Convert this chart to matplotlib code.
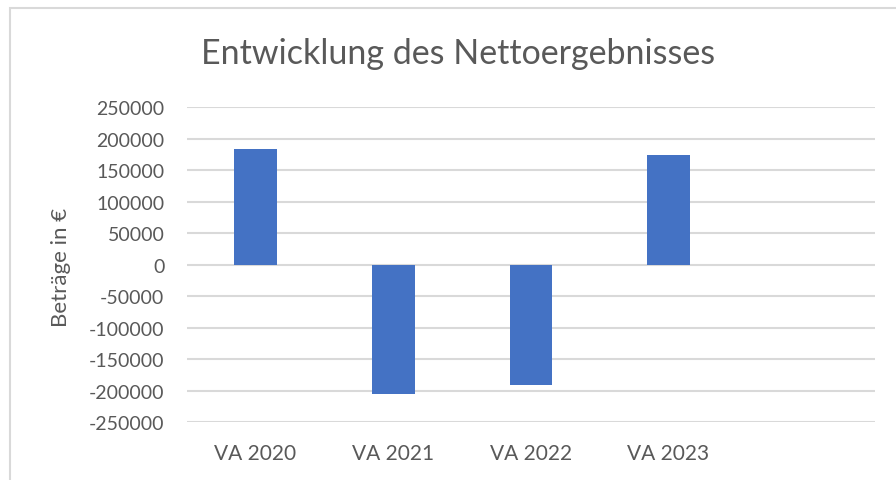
import matplotlib
matplotlib.use("Agg")
import matplotlib.pyplot as plt
from matplotlib.patches import Rectangle

plt.rcParams['font.family'] = ['Lato', 'DejaVu Sans']

# data
categories = ["VA 2020", "VA 2021", "VA 2022", "VA 2023"]
values = [184000, -205000, -190000, 175000]
yticks = list(range(-250000, 250001, 50000))

txt = "#595959"
grid = "#D9D9D9"
bar_col = "#4472C4"

fig = plt.figure(figsize=(8.96, 4.81), dpi=100)

# light chart border (right/bottom run off the picture)
fig.patches.append(Rectangle((10 / 896, -0.1), 1.2, 1 - 9 / 481 + 0.1,
                             transform=fig.transFigure, fill=False,
                             edgecolor=grid, linewidth=1.5))

ax = fig.add_axes([186.7 / 896, 1 - 423.3 / 481, (875 - 186.7) / 896, (423.3 - 108.3) / 481])
x = list(range(len(categories)))
ax.bar(x, values, width=0.31, color=bar_col, zorder=3)

ax.set_xlim(-0.5, 4.5)
ax.set_ylim(-250000, 250000)
ax.set_yticks(yticks)
ax.set_yticklabels([str(v) for v in yticks])
ax.set_xticks(x)
ax.set_xticklabels(categories)
ax.tick_params(length=0, labelsize=14, colors=txt)
ax.tick_params(axis='y', pad=16)
ax.tick_params(axis='x', labelsize=15, pad=15)
for s in ax.spines.values():
    s.set_visible(False)
ax.yaxis.grid(True, color=grid, linewidth=1.5, zorder=0)

fig.text(61 / 896, 1 - 267 / 481, "Beträge in €", rotation=90, ha='center', va='center',
         fontsize=16, color=txt)
fig.text(458 / 896, 1 - 54 / 481, "Entwicklung des Nettoergebnisses", ha='center', va='center',
         fontsize=24.5, color=txt)

fig.savefig("out.png", dpi=100)
